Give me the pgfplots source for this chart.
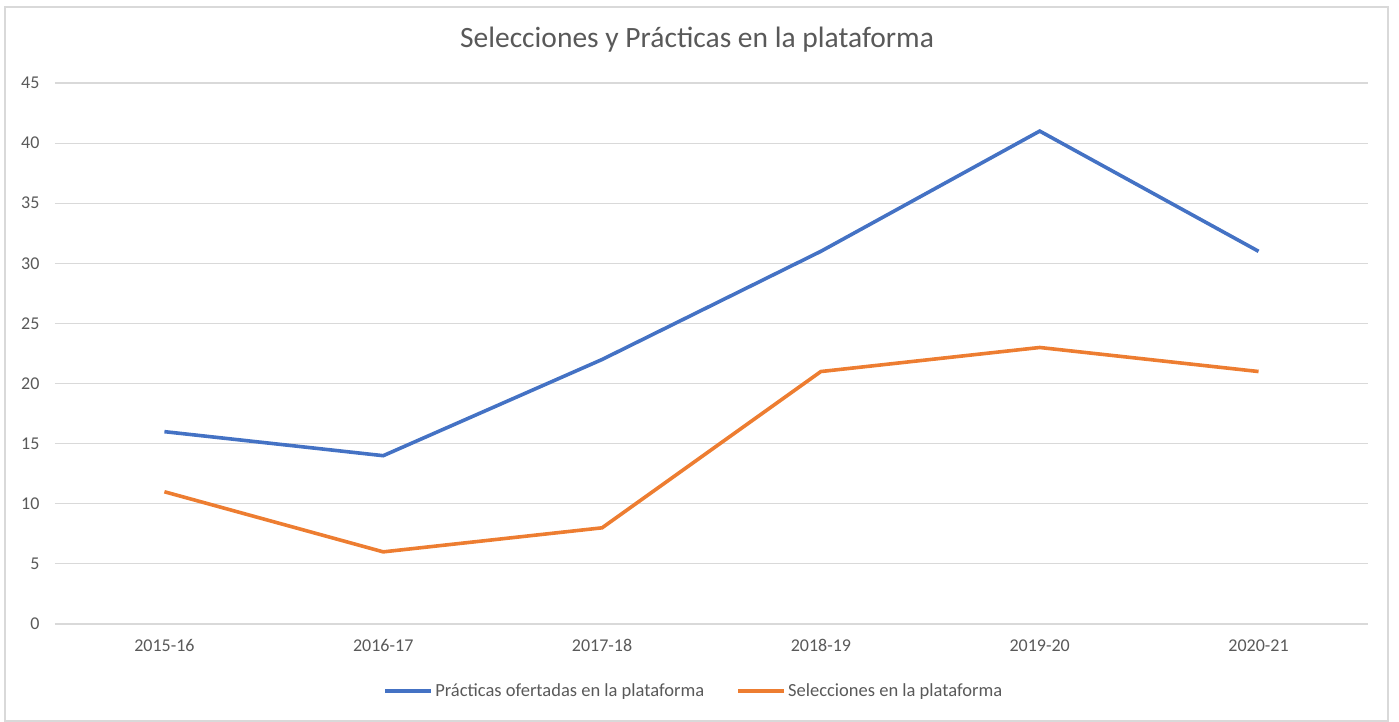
\documentclass[border=0pt]{standalone}
\usepackage{fontspec}
\setmainfont{Carlito}
\usepackage{pgfplots}
\pgfplotsset{compat=1.18}
\definecolor{cblue}{HTML}{4472C4}
\definecolor{corange}{HTML}{ED7D31}
\definecolor{ctext}{HTML}{595959}
\definecolor{cgrid}{HTML}{D9D9D9}
\begin{document}
\begin{tikzpicture}[x=1pt,y=1pt]
\path[use as bounding box] (0,0) rectangle (1399,722);
\draw[cgrid, line width=1.2pt] (5,1) rectangle (1388,715);
\node[text=ctext, font=\fontsize{29.5}{32}\selectfont] at (697,682) {Selecciones y Prácticas en la plataforma};
\begin{axis}[
  at={(55pt,98pt)}, anchor=south west,
  scale only axis, width=1313pt, height=541pt,
  xmin=-0.5, xmax=5.5, ymin=0, ymax=45,
  xtick={0,1,2,3,4,5},
  xticklabels={2015-16,2016-17,2017-18,2018-19,2019-20,2020-21},
  ytick={0,5,...,45},
  ymajorgrids, grid style={cgrid, line width=1.2pt},
  axis line style={draw=none},
  major tick length=0pt,
  tick label style={text=ctext, font=\fontsize{18}{20}\selectfont},
  /pgf/number format/assume math mode=true,
  yticklabel style={anchor=east, xshift=-12pt},
  xticklabel style={yshift=-12pt},
  legend style={at={(0.4865,-0.123)}, anchor=center, draw=none, fill=none,
    legend columns=2, font=\fontsize{18.5}{20}\selectfont, text=ctext,
    /tikz/every even column/.append style={column sep=30pt}},
  legend image code/.code={\draw[#1, line width=4pt] (0pt,0pt) -- (46pt,0pt);},
]
\draw[cgrid, line width=1.2pt] (axis cs:-0.5,0) -- (axis cs:5.5,0);
\addplot[cblue, line width=3.6pt] coordinates {(0,16) (1,14) (2,22) (3,31) (4,41) (5,31)};
\addlegendentry{Prácticas ofertadas en la plataforma}
\addplot[corange, line width=3.6pt] coordinates {(0,11) (1,6) (2,8) (3,21) (4,23) (5,21)};
\addlegendentry{Selecciones en la plataforma}
\end{axis}
\end{tikzpicture}
\end{document}
